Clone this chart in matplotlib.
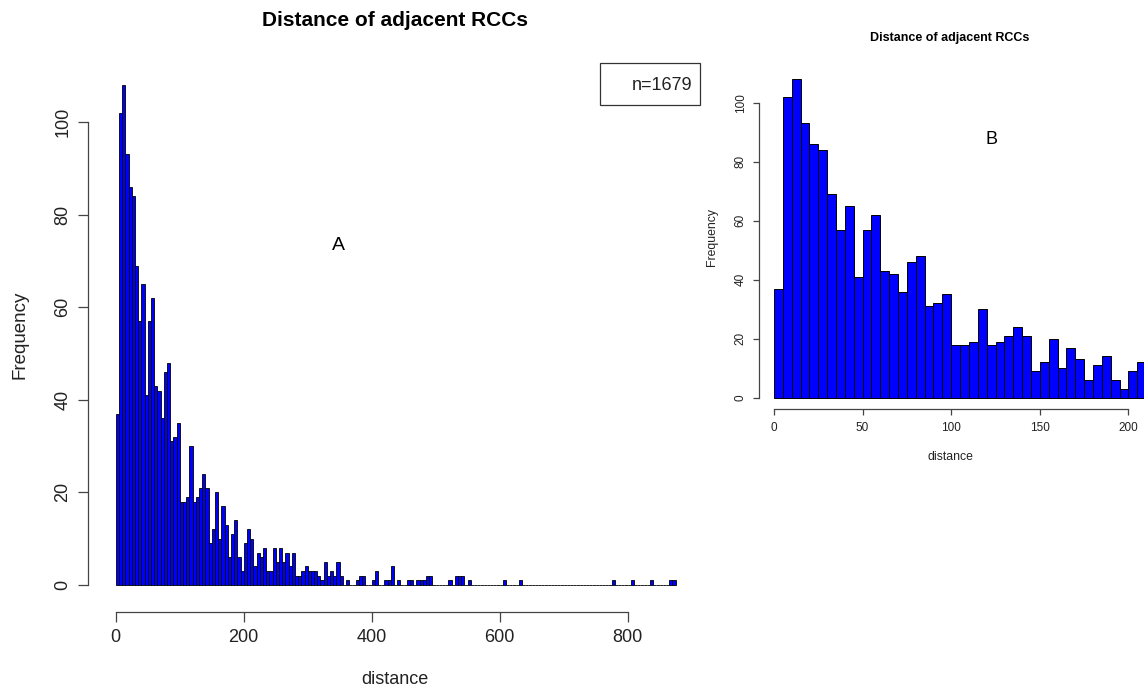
import matplotlib.pyplot as plt
from matplotlib.patches import Rectangle

# histogram of distances, bin width 5 (counts)
bin_width = 5
head_counts = [37, 102, 108, 93, 86, 84, 69, 57, 65, 41,
               57, 62, 43, 42, 36, 46, 48, 31, 32, 35,
               18, 18, 19, 30, 18, 19, 21, 24, 21, 9,
               12, 20, 10, 17, 13, 6, 11, 14, 6, 3,
               9, 12, 10, 4, 7, 6, 8, 3, 3, 8,
               5, 8, 5, 7, 4, 7, 2, 2, 3, 4,
               3, 3, 3, 2, 1, 5, 2, 3, 2, 5,
               2, 0]
tail_starts = [360, 375, 380, 385, 400, 405, 420, 425, 430, 440,
               455, 460, 470, 475, 480, 485, 490, 520, 530, 535,
               540, 550, 605, 630, 775, 805, 835, 865, 870]
tail_counts = [1, 1, 2, 2, 1, 3, 1, 1, 4, 1,
               1, 1, 1, 1, 1, 2, 2, 1, 2, 2,
               2, 1, 1, 1, 1, 1, 1, 1, 1]
max_break = 875
n_total = 1679

W, H = 1144, 691

# full list of bins
counts = [0] * (max_break // bin_width)
for i, c in enumerate(head_counts):
    counts[i] = c
for s, c in zip(tail_starts, tail_counts):
    counts[s // bin_width] = c
lefts = [i * bin_width for i in range(len(counts))]

plt.rcParams['font.family'] = ['Liberation Sans', 'DejaVu Sans']

fig = plt.figure(figsize=(W / 100, H / 100), dpi=100)


def ax_rect(x0, y0, x1, y1):
    # pixel box (top-left origin) -> figure fraction rect
    return [x0 / W, 1 - y1 / H, (x1 - x0) / W, (y1 - y0) / H]


def r_style(ax, xb, yb, fs, ticklen, pad):
    for s in ["top", "right"]:
        ax.spines[s].set_visible(False)
    ax.spines["left"].set_bounds(*yb)
    ax.spines["bottom"].set_bounds(*xb)
    for s in ["left", "bottom"]:
        ax.spines[s].set_color("#444444")
        ax.spines[s].set_linewidth(0.9)
    ax.tick_params(length=ticklen, width=0.9, color="#444444", labelsize=fs, pad=pad,
                   labelcolor="#222222")
    for lab in ax.get_yticklabels():
        lab.set_rotation(90)
        lab.set_va("center")


# --- A: full histogram
axA = fig.add_axes(ax_rect(88, 60, 700, 612))
axA.bar(lefts, counts, width=bin_width, align="edge", color="#0000ff",
        edgecolor="black", linewidth=0.6)
axA.set_xlim(-43.3, 913)
axA.set_ylim(-5.83, 113.4)
axA.set_xticks([0, 200, 400, 600, 800])
axA.set_yticks([0, 20, 40, 60, 80, 100])
r_style(axA, (0, 800), (0, 100), 13, 7, 5)

fig.text(395 / W, 1 - 20 / H, "Distance of adjacent RCCs", ha="center", va="center",
         fontsize=15, fontweight="bold")
fig.text(395 / W, 1 - 680 / H, "distance", ha="center", va="center", fontsize=13,
         color="#222222")
fig.text(20 / W, 1 - 335 / H, "Frequency", ha="center", va="center", rotation=90,
         fontsize=13.5, color="#222222")
fig.text(338 / W, 1 - 245 / H, "A", ha="center", va="center", fontsize=14)

# legend box
fig.patches.append(Rectangle((600 / W, 1 - 105 / H), 100 / W, 42 / H,
                             transform=fig.transFigure, fill=False,
                             edgecolor="#333333", linewidth=0.9))
fig.text(662 / W, 1 - 85 / H, "n=" + str(n_total), ha="center", va="center", fontsize=13,
         color="#222222")

# --- B: zoom on first 200
axB = fig.add_axes(ax_rect(759.3, 60, W, 409.3))
axB.bar(lefts, counts, width=bin_width, align="edge", color="#0000ff",
        edgecolor="black", linewidth=0.7)
axB.set_xlim(-8.3, 208.8)
axB.set_ylim(-3.93, 114.5)
axB.set_xticks([0, 50, 100, 150, 200])
axB.set_yticks([0, 20, 40, 60, 80, 100])
r_style(axB, (0, 200), (0, 100), 8.5, 4, 5)

fig.text(950 / W, 1 - 38 / H, "Distance of adjacent RCCs", ha="center", va="center",
         fontsize=9, fontweight="bold")
fig.text(950 / W, 1 - 457 / H, "distance", ha="center", va="center", fontsize=8.8,
         color="#222222")
fig.text(712 / W, 1 - 237 / H, "Frequency", ha="center", va="center", rotation=90,
         fontsize=8.8, color="#222222")
fig.text(992 / W, 1 - 140 / H, "B", ha="center", va="center", fontsize=13)

fig.savefig("out.png", dpi=100)
